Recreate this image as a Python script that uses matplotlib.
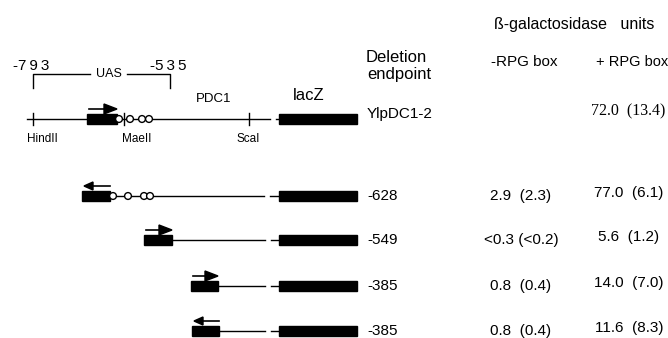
import numpy as np
import matplotlib
matplotlib.use('Agg')
import matplotlib.pyplot as plt
from matplotlib.patches import Rectangle, Circle, Polygon

plt.rcParams['font.family'] = ['Liberation Sans', 'DejaVu Sans']

# Dados
constructs = ['YlpDC1-2', '-628', '-549', '-385', '-385']
minus_rpg = ['', '2.9  (2.3)', '<0.3 (<0.2)', '0.8  (0.4)', '0.8  (0.4)']
plus_rpg = ['72.0  (13.4)', '77.0  (6.1)', '5.6  (1.2)', '14.0  (7.0)', '11.6  (8.3)']
orientation = [1, -1, 1, 1, -1]  # sentido da seta sobre o elemento UAS
has_sites = [True, True, False, False, False]  # circulos (sitios RPG)

# Layout (pixels)
row_y = [119, 196, 240, 286, 331]
box_x0 = [87, 82, 144, 191, 192]
box_w = [30, 28, 28, 27, 27]
line_end = [270, 264, 265, 265, 265]
bar_x0, bar_x1 = 279, 357
box_h = 10

fig = plt.figure(figsize=(6.68, 3.38), dpi=100)
ax = fig.add_axes([0, 0, 1, 1])
ax.set_xlim(0, 668)
ax.set_ylim(338, 0)
ax.axis('off')

fs = 11
lw = 1.0
for i in range(len(constructs)):
    y = row_y[i]
    x0 = box_x0[i]
    x1 = x0 + box_w[i]
    # linha do promotor
    start = 27 if i == 0 else x1
    ax.plot([start, line_end[i]], [y, y], color='k', lw=lw)
    ax.plot([line_end[i] + 6, bar_x0], [y, y], color='k', lw=lw)
    # elemento UAS (caixa preta)
    ax.add_patch(Rectangle((x0, y - box_h / 2), box_w[i], box_h, color='k'))
    # lacZ
    ax.add_patch(Rectangle((bar_x0, y - 5), bar_x1 - bar_x0, 10, color='k'))
    # seta
    ay = y - 10
    if orientation[i] == 1:
        ax.plot([x0 + 2, x1 - 12], [ay, ay], color='k', lw=1.2)
        ax.add_patch(Polygon([[x1 - 13, ay - 5], [x1 - 13, ay + 5], [x1, ay]], color='k'))
    else:
        ax.plot([x0 + 10, x1], [ay, ay], color='k', lw=1.2)
        ax.add_patch(Polygon([[x0 + 11, ay - 4], [x0 + 11, ay + 4], [x0 + 2, ay]], color='k'))
    # sitios
    if has_sites[i]:
        if i == 0:
            cx = [119, 130, 142, 149]
        else:
            cx = [113, 128, 144, 150]
        for c in cx:
            ax.add_patch(Circle((c, y), 3.4, facecolor='white', edgecolor='k', lw=1.0, zorder=3))
    # textos da tabela
    ty = y - 5 if i == 0 else y
    ax.text(367, ty, constructs[i], fontsize=fs, va='center', ha='left')
    if minus_rpg[i]:
        ax.text(521, y, minus_rpg[i], fontsize=fs, va='center', ha='center')
    if i == 0:
        ax.text(628, y - 8, plus_rpg[i], fontsize=11.5, va='center', ha='center',
                family='Liberation Serif')
    else:
        ax.text(629, y - 3, plus_rpg[i], fontsize=fs, va='center', ha='center')

# marcas de restricao na primeira linha
y0 = row_y[0]
for xt in [33, 124, 249]:
    ax.plot([xt, xt], [y0 - 6, y0 + 6], color='k', lw=1.0)
ax.text(42, 139, 'HindII', fontsize=8.5, ha='center', va='center')
ax.text(137, 139, 'MaeII', fontsize=8.5, ha='center', va='center')
ax.text(248, 139, 'ScaI', fontsize=8.5, ha='center', va='center')
ax.text(214, 99, 'PDC1', fontsize=9.5, ha='center', va='center')
ax.text(309, 96, 'lacZ', fontsize=12, ha='center', va='center')

# colchete UAS
ax.plot([33, 33, 90], [88, 74, 74], color='k', lw=1.0)
ax.plot([127, 170, 170], [74, 74, 88], color='k', lw=1.0)
ax.text(109, 74, 'UAS', fontsize=9, ha='center', va='center')
ax.text(31, 66, '-7\u20099\u20093', fontsize=11, ha='center', va='center')
ax.text(168, 66, '-5\u20093\u20095', fontsize=11, ha='center', va='center')

# cabecalhos
ax.text(574, 24, 'ß-galactosidase   units', fontsize=11.5, ha='center', va='center')
ax.text(396, 57, 'Deletion', fontsize=12, ha='center', va='center')
ax.text(399, 74, 'endpoint', fontsize=12, ha='center', va='center')
ax.text(524, 62, '-RPG box', fontsize=fs, ha='center', va='center')
ax.text(632, 62, '+ RPG box', fontsize=10.5, ha='center', va='center')

fig.savefig('out.png', dpi=100)
